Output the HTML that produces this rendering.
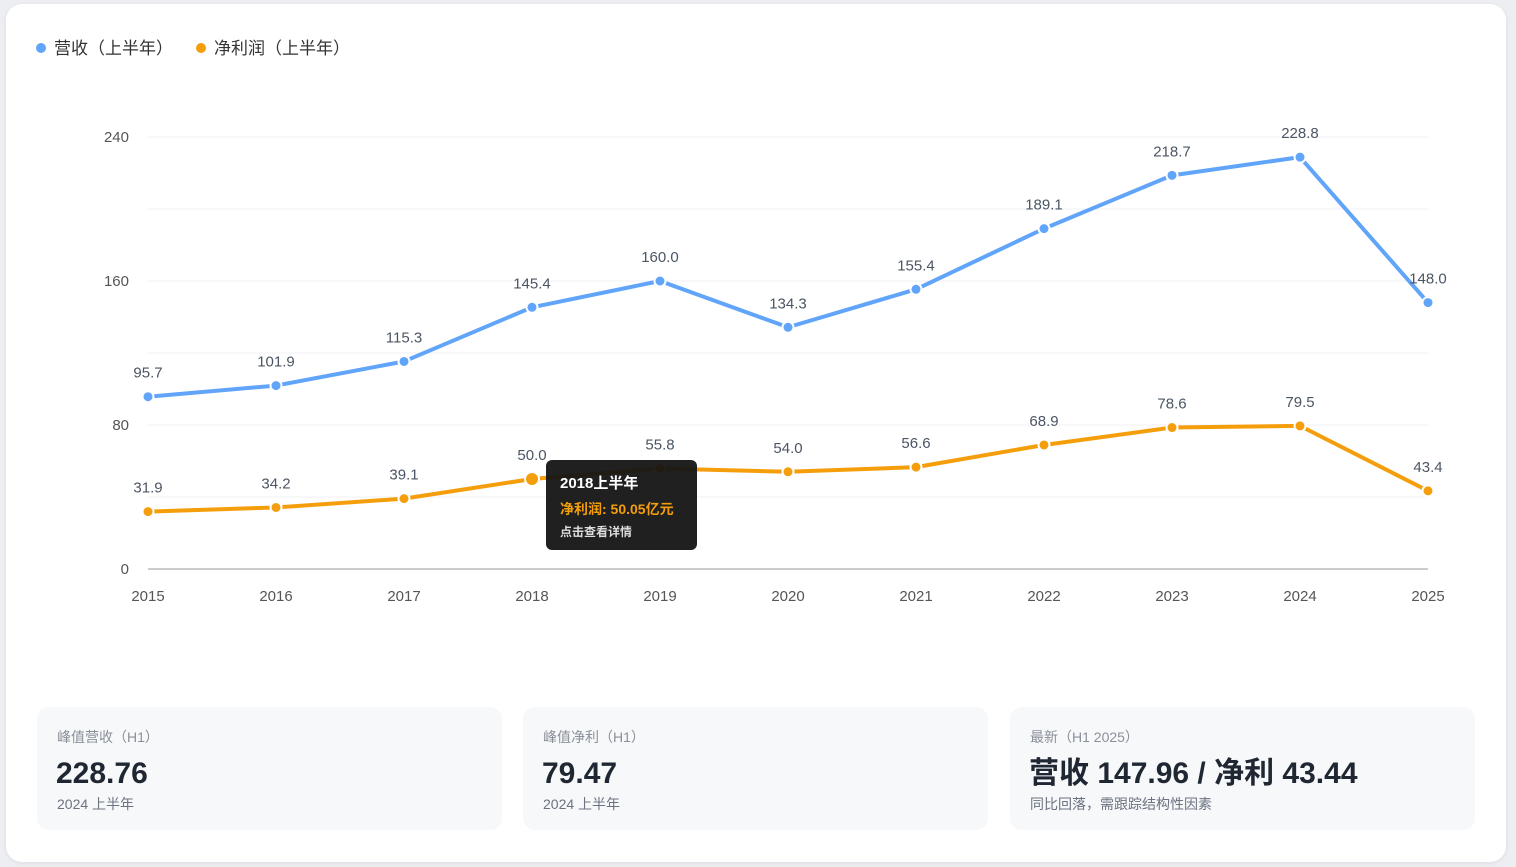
<!DOCTYPE html>
<html><head><meta charset="utf-8">
<style>
body{margin:0;width:1516px;height:867px;background:#eceef1;font-family:"Liberation Sans","Noto Sans CJK SC",sans-serif;overflow:hidden;position:relative}
#card{position:absolute;left:6px;top:4px;width:1500px;height:858px;background:#fff;border-radius:16px;box-shadow:0 1px 4px rgba(0,0,0,.08)}
svg{position:absolute;left:0;top:0}
.stat{position:absolute;top:707px;height:123px;width:465px;background:#f7f8fa;border-radius:12px}
.stat .t{position:absolute;left:20px;top:20px;font-size:14px;color:#8a9099}
.stat .v{position:absolute;left:19px;top:52px;font-size:30px;line-height:30px;font-weight:bold;color:#1f2733}
.stat .s{position:absolute;left:20px;top:87px;font-size:14px;color:#6b7280}
#tip{position:absolute;left:546px;top:460px;width:151px;height:90px;background:rgba(20,20,20,.95);border-radius:6px;color:#fff}
</style></head><body>
<div id="card"></div>
<svg id="chart" width="1516" height="700"></svg>
<div id="tip">
<div style="position:absolute;left:14px;top:12px;font-size:15px;font-weight:bold">2018上半年</div>
<div style="position:absolute;left:14px;top:39px;font-size:14px;color:#f59e0b;font-weight:bold">净利润: 50.05亿元</div>
<div style="position:absolute;left:14px;top:63px;font-size:12px;font-weight:bold;color:#ddd">点击查看详情</div>
</div>
<div class="stat" style="left:37px"><div class="t">峰值营收（H1）</div><div class="v">228.76</div><div class="s">2024 上半年</div></div>
<div class="stat" style="left:523px"><div class="t">峰值净利（H1）</div><div class="v">79.47</div><div class="s">2024 上半年</div></div>
<div class="stat" style="left:1010px"><div class="t">最新（H1 2025）</div><div class="v">营收 147.96 / 净利 43.44</div><div class="s">同比回落，需跟踪结构性因素</div></div>
<script>
const years=['2015','2016','2017','2018','2019','2020','2021','2022','2023','2024','2025'];
const revenue=[95.7,101.9,115.3,145.4,160.0,134.3,155.4,189.1,218.7,228.8,148.0];
const profit=[31.9,34.2,39.1,50.0,55.8,54.0,56.6,68.9,78.6,79.5,43.4];
const yTicks=[0,80,160,240];
const svg=document.getElementById('chart');const NS='http://www.w3.org/2000/svg';
const x=i=>148+i*128, y=v=>569-v*1.8;
function mk(t,a,txt){const e=document.createElementNS(NS,t);for(const k in a)e.setAttribute(k,a[k]);if(txt!==undefined)e.textContent=txt;svg.appendChild(e);return e;}
for(let v=0;v<=240;v+=40){const g=mk('line',{x1:148,x2:1428,y1:y(v),y2:y(v),stroke:v==0?'#ccc':'#f1f2f4','stroke-width':v==0?2:1});

}
yTicks.forEach(v=>{const t=mk('text',{x:129,y:y(v)+5,'text-anchor':'end','font-size':15,fill:'#555'},v);

});
years.forEach((s,i)=>{const t=mk('text',{x:x(i),y:601,'text-anchor':'middle','font-size':15,fill:'#555'},s);

});
function series(d,c,n){
const p=mk('polyline',{points:d.map((v,i)=>x(i)+','+y(v)).join(' '),fill:'none',stroke:c,'stroke-width':4,'stroke-linejoin':'round'});


d.forEach((v,i)=>{const r=(n=='profit'&&i==3)?7:5.5;const pt=mk('circle',{cx:x(i),cy:y(v),r:r,fill:c,stroke:'#fff','stroke-width':2});


const t=mk('text',{x:x(i),y:y(v)-19,'text-anchor':'middle','font-size':15,fill:'#4b5563'},v.toFixed(1));

});}
series(revenue,'#60a5fa','revenue');series(profit,'#f59e0b','profit');
const L=[[41,'#60a5fa','营收（上半年）'],[201,'#f59e0b','净利润（上半年）']];
L.forEach(l=>{const c=mk('circle',{cx:l[0],cy:48,r:5,fill:l[1]});


const t=mk('text',{x:l[0]+13,y:54,'font-size':17,fill:'#333'},l[2]);

});
</script>
</body></html>
